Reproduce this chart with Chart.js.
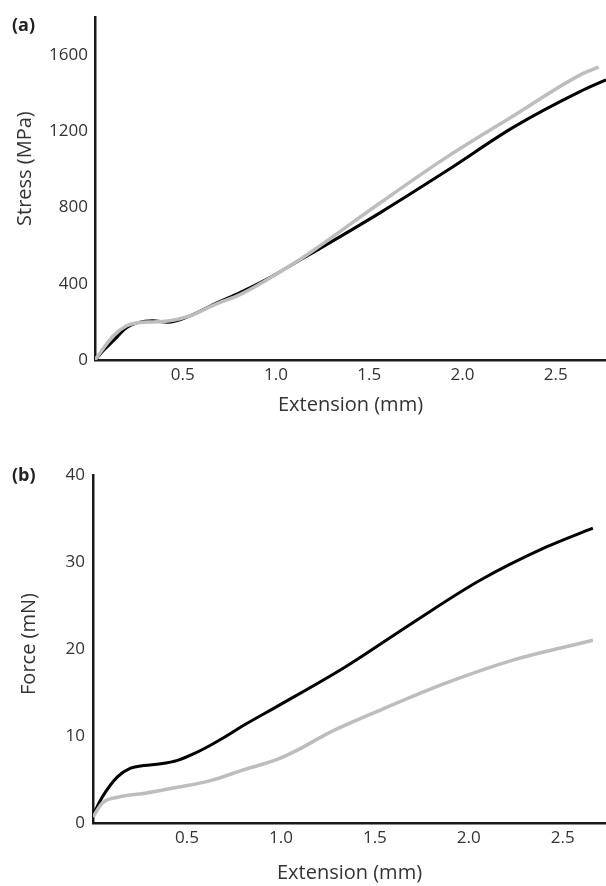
<!DOCTYPE html>
<html>
<head>
<meta charset="utf-8">
<script src="https://cdn.jsdelivr.net/npm/chart.js@4.4.1/dist/chart.umd.min.js"></script>
<style>
  html, body { margin: 0; padding: 0; background: #fff; }
  body { width: 606px; height: 886px; position: relative; overflow: hidden; }
  .panel { position: absolute; left: 0; width: 606px; }
  #panelA { top: 0; height: 440px; }
  #panelB { top: 440px; height: 446px; }
  .tag { position: absolute; left: 12px; font: bold 18px "Open Sans", sans-serif; line-height: 20px; color: #222; }
</style>
</head>
<body>
<div class="panel" id="panelA"><canvas id="chartA" width="606" height="440"></canvas></div>
<div class="panel" id="panelB"><canvas id="chartB" width="606" height="446"></canvas></div>
<div class="tag" style="top:14px">(a)</div>
<div class="tag" style="top:464px">(b)</div>
<script>
// Extension (mm) tick labels, shared by both panels
const xTicks = [0.5, 1.0, 1.5, 2.0, 2.5];

// (a) stress vs extension
const stressTicks = [0, 400, 800, 1200, 1600];
const stressBlackX = [0.03, 0.08, 0.13, 0.20, 0.26, 0.34, 0.42, 0.54, 0.67, 0.81, 0.95, 1.12, 1.20, 1.56, 1.92, 2.27, 2.63, 2.77];
const stressBlackY = [0, 55, 103, 170, 196, 206, 198, 232, 294, 355, 423, 520, 565, 774, 996, 1220, 1409, 1471];
const stressGreyX = [0.03, 0.06, 0.13, 0.20, 0.26, 0.34, 0.42, 0.54, 0.67, 0.81, 0.95, 1.12, 1.20, 1.56, 1.92, 2.27, 2.63, 2.73];
const stressGreyY = [0, 41, 129, 180, 196, 200, 205, 232, 290, 345, 420, 522, 575, 826, 1068, 1280, 1496, 1538];

// (b) force vs extension
const forceTicks = [0, 10, 20, 30, 40];
const forceBlackX = [0, 0.05, 0.13, 0.20, 0.27, 0.36, 0.45, 0.54, 0.63, 0.71, 0.80, 0.98, 1.34, 1.70, 2.06, 2.41, 2.66];
const forceBlackY = [0.9, 3.0, 5.3, 6.3, 6.6, 6.8, 7.2, 8.0, 9.0, 10.0, 11.2, 13.4, 17.9, 23.0, 27.9, 31.7, 33.9];
const forceGreyX = [0, 0.05, 0.14, 0.27, 0.45, 0.63, 0.80, 0.98, 1.09, 1.25, 1.52, 1.88, 2.23, 2.66];
const forceGreyY = [0.7, 2.3, 3.0, 3.4, 4.1, 4.9, 6.1, 7.3, 8.4, 10.3, 12.9, 16.1, 18.7, 21.0];

const AXIS = '#1a1a1a';
const TEXT = '#333';
const FONT = '"Open Sans", sans-serif';

function points(xs, ys) {
  return xs.map((x, i) => ({ x: x, y: ys[i] }));
}

function curve(xs, ys, color, width, order) {
  return {
    data: points(xs, ys),
    borderColor: color,
    borderWidth: width,
    pointRadius: 0,
    fill: false,
    cubicInterpolationMode: 'monotone',
    order: order
  };
}

function makeChart(id, cfg) {
  return new Chart(document.getElementById(id), {
    type: 'line',
    data: {
      datasets: [
        curve(cfg.greyX, cfg.greyY, '#bdbdbd', 3.5, 0),
        curve(cfg.blackX, cfg.blackY, '#000', 3, 1)
      ]
    },
    options: {
      responsive: false,
      animation: false,
      layout: { padding: { top: cfg.top, right: 0, bottom: 0, left: 0 } },
      plugins: { legend: { display: false }, tooltip: { enabled: false } },
      scales: {
        x: {
          type: 'linear',
          min: cfg.xMin,
          max: cfg.xMax,
          grid: { display: false, drawTicks: false },
          border: { color: AXIS, width: 2.5 },
          ticks: {
            color: TEXT,
            padding: 5,
            maxRotation: 0,
            font: { family: FONT, size: 17 },
            callback: v => v.toFixed(1)
          },
          afterBuildTicks: s => { s.ticks = xTicks.map(v => ({ value: v })); },
          afterFit: s => { s.height = cfg.xHeight; },
          title: {
            display: true,
            text: 'Extension (mm)',
            color: TEXT,
            font: { family: FONT, size: 20 },
            padding: { top: 0, bottom: cfg.xTitlePad }
          }
        },
        y: {
          min: 0,
          max: cfg.yMax,
          grid: { display: false, drawTicks: false },
          border: { color: AXIS, width: 2.5 },
          ticks: {
            color: TEXT,
            padding: cfg.yTickPad,
            font: { family: FONT, size: 17 },
            callback: v => String(v)
          },
          afterBuildTicks: s => { s.ticks = cfg.yTicks.map(v => ({ value: v })); },
          afterFit: s => { s.width = cfg.yWidth; },
          title: {
            display: true,
            text: cfg.yTitle,
            color: TEXT,
            font: { family: FONT, size: 20 },
            padding: { top: cfg.yTitlePad, bottom: 0 }
          }
        }
      }
    }
  });
}

makeChart('chartA', {
  blackX: stressBlackX, blackY: stressBlackY,
  greyX: stressGreyX, greyY: stressGreyY,
  yTicks: stressTicks, yMax: 1800,
  xMin: 0.03, xMax: 2.77,
  top: 12, xHeight: 80, xTitlePad: 23,
  yWidth: 95, yTitlePad: 13, yTickPad: 7,
  yTitle: '\u2003\u2003Stress (MPa)'
});

makeChart('chartB', {
  blackX: forceBlackX, blackY: forceBlackY,
  greyX: forceGreyX, greyY: forceGreyY,
  yTicks: forceTicks, yMax: 40,
  xMin: 0, xMax: 2.73,
  top: 35, xHeight: 63, xTitlePad: 1,
  yWidth: 93, yTitlePad: 17, yTickPad: 8,
  yTitle: '\u2002Force (mN)'
});
</script>
</body>
</html>
